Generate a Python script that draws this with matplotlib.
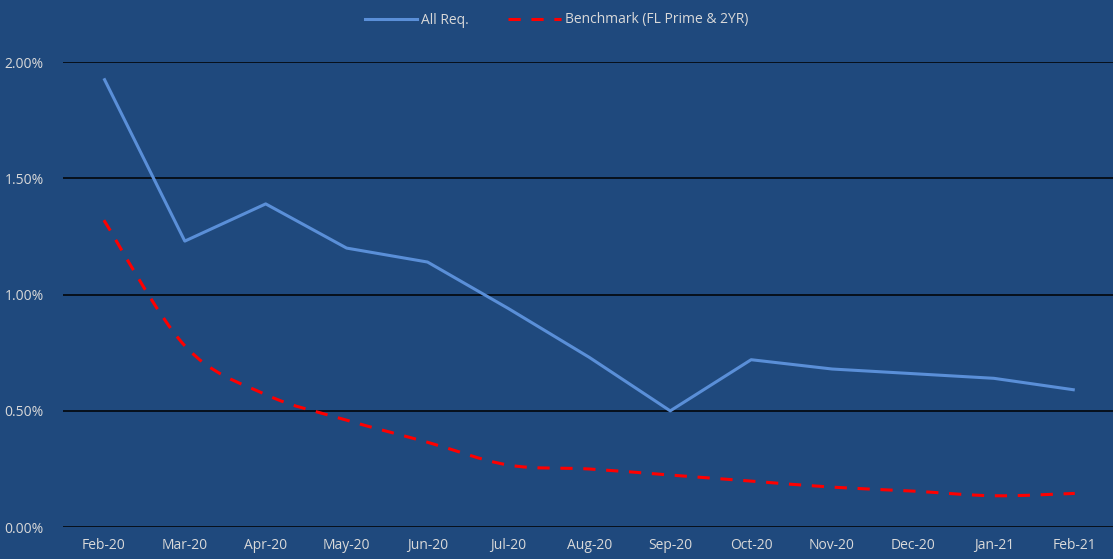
import numpy as np
import matplotlib.pyplot as plt
from matplotlib.path import Path
from matplotlib.patches import PathPatch
from matplotlib.lines import Line2D
from matplotlib.ticker import PercentFormatter

# data (percent)
months = ["Feb-20", "Mar-20", "Apr-20", "May-20", "Jun-20", "Jul-20", "Aug-20",
          "Sep-20", "Oct-20", "Nov-20", "Dec-20", "Jan-21", "Feb-21"]
all_req = [1.93, 1.23, 1.39, 1.20, 1.14, 0.94, 0.73, 0.50, 0.72, 0.68, 0.66, 0.64, 0.59]
benchmark = [1.32, 0.78, 0.57, 0.46, 0.365, 0.267, 0.25, 0.224, 0.198, 0.172, 0.155, 0.135, 0.145]

BG = "#1f497d"
TXT = "#d9d9d9"
BLUE = "#5a8fd8"
RED = "#ff0000"

plt.rcParams["font.family"] = ["Open Sans", "DejaVu Sans"]


def smooth_path(xs, ys, t=1 / 6):
    # Excel-style smoothed line: cubic bezier through the points
    pts = np.column_stack([xs, ys]).astype(float)
    verts = [pts[0]]
    codes = [Path.MOVETO]
    n = len(pts)
    for i in range(n - 1):
        p0 = pts[i - 1] if i > 0 else pts[i]
        p1, p2 = pts[i], pts[i + 1]
        p3 = pts[i + 2] if i + 2 < n else pts[i + 1]
        c1 = p1 + (p2 - p0) * t
        c2 = p2 - (p3 - p1) * t
        verts += [c1, c2, p2]
        codes += [Path.CURVE4] * 3
    return Path(verts, codes)


fig = plt.figure(figsize=(11.13, 5.59), dpi=100, facecolor=BG)
ax = fig.add_axes([0.057, 0.057, 0.945, 0.832], facecolor=BG)

x = np.arange(len(months))
ax.plot(x, all_req, color=BLUE, lw=2.2, solid_capstyle="butt", zorder=3)
ax.add_patch(PathPatch(smooth_path(x, benchmark), fill=False, edgecolor=RED,
                       lw=2.2, linestyle=(0, (4, 3.5)), zorder=3))

ax.set_xlim(-0.5, len(months) - 0.5)
ax.set_ylim(0, 2.0)
ax.set_yticks([0, 0.5, 1.0, 1.5, 2.0])
ax.yaxis.set_major_formatter(PercentFormatter(decimals=2))
ax.set_xticks(x)
ax.set_xticklabels(months)
ax.grid(axis="y", color="black", lw=1.1)
ax.set_axisbelow(True)
ax.tick_params(colors=TXT, labelsize=10, length=0, pad=8)
ax.tick_params(axis="y", pad=14)
for s in ax.spines.values():
    s.set_visible(False)

handles = [Line2D([], [], color=BLUE, lw=2.2),
           Line2D([], [], color=RED, lw=2.2, linestyle=(0, (4, 3.5)))]
fig.legend(handles, ["All Req.", "Benchmark (FL Prime & 2YR)"], loc="upper center",
           bbox_to_anchor=(0.5, 1.0), ncol=2, frameon=False, fontsize=10,
           labelcolor=TXT, handlelength=3.8, handletextpad=0.3, columnspacing=2.8)

fig.savefig("out.png", dpi=100, facecolor=BG)
